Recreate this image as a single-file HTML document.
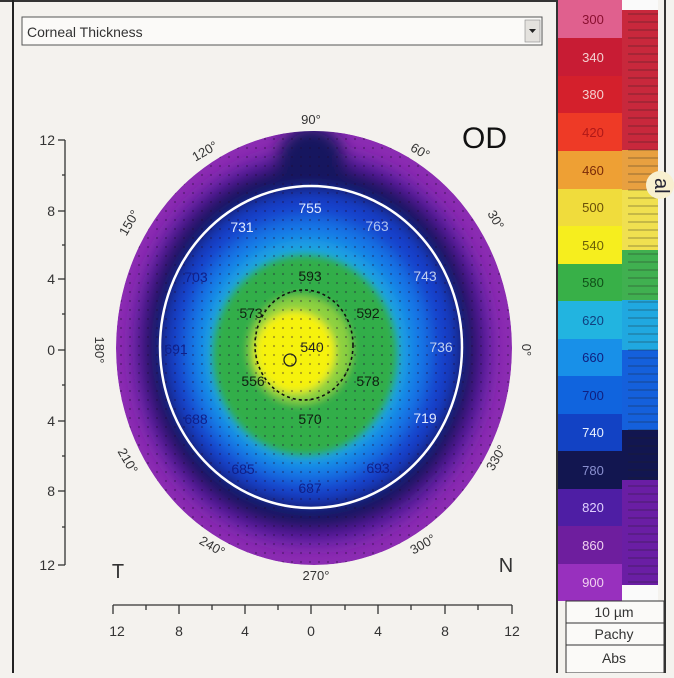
<!DOCTYPE html>
<html><head><style>
body{margin:0;width:674px;height:673px;overflow:hidden;background:#f4f2ee;font-family:"Liberation Sans",sans-serif}
</style></head><body>
<svg width="674" height="673" viewBox="0 0 674 673" xmlns="http://www.w3.org/2000/svg" font-family="Liberation Sans, sans-serif">
<defs>
<filter id="b" x="-30%" y="-30%" width="160%" height="160%"><feGaussianBlur stdDeviation="8"/></filter>
<filter id="b2" x="-30%" y="-30%" width="160%" height="160%"><feGaussianBlur stdDeviation="4"/></filter>
<clipPath id="c"><ellipse cx="314" cy="348" rx="198" ry="217"/></clipPath>
<pattern id="dots" width="9" height="9" patternUnits="userSpaceOnUse"><circle cx="4" cy="4" r="1.1" fill="#200830" opacity="0.7"/></pattern>
</defs>
<rect width="674" height="673" fill="#f4f2ee"/>
<rect x="0" y="0" width="556" height="2" fill="#333"/>
<rect x="12" y="0" width="2" height="673" fill="#222"/>
<rect x="22" y="17" width="520" height="28" fill="#fbfaf8" stroke="#555" stroke-width="1"/>
<text x="27" y="37" font-size="14" fill="#333">Corneal Thickness</text>
<rect x="525" y="20" width="15" height="22" fill="#e4e2de" stroke="#888" stroke-width="0.6"/>
<path d="M529 29 L536 29 L532.5 33 Z" fill="#222"/>
<g clip-path="url(#c)">
<ellipse cx="314" cy="348" rx="198" ry="217" fill="#8c2cb2"/>
<g filter="url(#b)">
<ellipse cx="312" cy="348" rx="180" ry="198" fill="#5a1ea0"/>
<ellipse cx="311" cy="347" rx="168" ry="184" fill="#16185e"/>
<ellipse cx="311" cy="168" rx="36" ry="42" fill="#16185e"/>
<ellipse cx="311" cy="347" rx="146" ry="156" fill="#1240cc"/>
<ellipse cx="308" cy="350" rx="122" ry="132" fill="#1878e8"/>
<ellipse cx="306" cy="352" rx="102" ry="112" fill="#1ea8e0"/>
</g>
<g filter="url(#b2)">
<ellipse cx="305" cy="355" rx="92" ry="100" fill="#32ae48"/>
<ellipse cx="300" cy="350" rx="52" ry="54" fill="#8cd040"/>
<ellipse cx="295" cy="352" rx="40" ry="41" fill="#f6f20a"/>
</g>
<rect x="100" y="120" width="430" height="460" fill="url(#dots)" opacity="0.5"/>
</g>
<ellipse cx="311" cy="347" rx="151" ry="161" fill="none" stroke="#fff" stroke-width="2.5"/>
<ellipse cx="304" cy="345" rx="49" ry="55" fill="none" stroke="#111" stroke-width="1.6" stroke-dasharray="3,3"/>
<circle cx="290" cy="360" r="6" fill="none" stroke="#222" stroke-width="1.3"/>
<g font-size="14" text-anchor="middle">
<text x="310" y="213" fill="#e0eaff">755</text>
<text x="242" y="232" fill="#e0eaff">731</text>
<text x="377" y="231" fill="#b0c4f0">763</text>
<text x="196" y="282" fill="#10208a">703</text>
<text x="425" y="281" fill="#c0d0f0">743</text>
<text x="310" y="281" fill="#102010">593</text>
<text x="251" y="318" fill="#102010">573</text>
<text x="368" y="318" fill="#102010">592</text>
<text x="176" y="354" fill="#10208a">691</text>
<text x="312" y="352" fill="#222">540</text>
<text x="441" y="352" fill="#c0d0f0">736</text>
<text x="253" y="386" fill="#102010">556</text>
<text x="368" y="386" fill="#102010">578</text>
<text x="196" y="424" fill="#10208a">688</text>
<text x="310" y="424" fill="#102010">570</text>
<text x="425" y="423" fill="#e0eaff">719</text>
<text x="243" y="474" fill="#10208a">685</text>
<text x="378" y="473" fill="#10208a">693</text>
<text x="310" y="493" fill="#10208a">687</text>
</g>
<g font-size="13" fill="#333" text-anchor="middle">
<text x="311" y="124">90°</text>
<text x="207" y="155" transform="rotate(-30 207 155)">120°</text>
<text x="418" y="155" transform="rotate(30 418 155)">60°</text>
<text x="133" y="225" transform="rotate(-60 133 225)">150°</text>
<text x="492" y="222" transform="rotate(60 492 222)">30°</text>
<text x="95" y="350" transform="rotate(90 95 350)">180°</text>
<text x="522" y="350" transform="rotate(90 522 350)">0°</text>
<text x="124" y="463" transform="rotate(60 124 463)">210°</text>
<text x="500" y="460" transform="rotate(-60 500 460)">330°</text>
<text x="210" y="550" transform="rotate(30 210 550)">240°</text>
<text x="425" y="548" transform="rotate(-30 425 548)">300°</text>
<text x="316" y="580">270°</text>
</g>
<text x="462" y="148" font-size="30" fill="#111">OD</text>
<text x="118" y="578" font-size="20" fill="#333" text-anchor="middle">T</text>
<text x="506" y="572" font-size="20" fill="#333" text-anchor="middle">N</text>
<g stroke="#333" stroke-width="1.3">
<line x1="65" y1="140" x2="65" y2="565"/>
<line x1="58" y1="140" x2="65" y2="140"/><line x1="58" y1="211" x2="65" y2="211"/><line x1="58" y1="279" x2="65" y2="279"/><line x1="58" y1="350" x2="65" y2="350"/><line x1="58" y1="421" x2="65" y2="421"/><line x1="58" y1="491" x2="65" y2="491"/><line x1="58" y1="565" x2="65" y2="565"/>
<line x1="62" y1="175" x2="65" y2="175"/><line x1="62" y1="245" x2="65" y2="245"/><line x1="62" y1="314" x2="65" y2="314"/><line x1="62" y1="385" x2="65" y2="385"/><line x1="62" y1="456" x2="65" y2="456"/><line x1="62" y1="527" x2="65" y2="527"/>
<line x1="113" y1="605" x2="512" y2="605"/>
<line x1="113" y1="605" x2="113" y2="614"/><line x1="179" y1="605" x2="179" y2="614"/><line x1="245" y1="605" x2="245" y2="614"/><line x1="311" y1="605" x2="311" y2="614"/><line x1="378" y1="605" x2="378" y2="614"/><line x1="445" y1="605" x2="445" y2="614"/><line x1="512" y1="605" x2="512" y2="614"/>
<line x1="146" y1="605" x2="146" y2="610"/><line x1="212" y1="605" x2="212" y2="610"/><line x1="278" y1="605" x2="278" y2="610"/><line x1="345" y1="605" x2="345" y2="610"/><line x1="411" y1="605" x2="411" y2="610"/><line x1="478" y1="605" x2="478" y2="610"/>
</g>
<g font-size="14" fill="#333" text-anchor="end">
<text x="55" y="145">12</text><text x="55" y="216">8</text><text x="55" y="284">4</text><text x="55" y="355">0</text><text x="55" y="426">4</text><text x="55" y="496">8</text><text x="55" y="570">12</text>
</g>
<g font-size="14" fill="#333" text-anchor="middle">
<text x="117" y="636">12</text><text x="179" y="636">8</text><text x="245" y="636">4</text><text x="311" y="636">0</text><text x="378" y="636">4</text><text x="445" y="636">8</text><text x="512" y="636">12</text>
</g>
<rect x="556" y="0" width="118" height="673" fill="#f4f2ee"/>
<rect x="556" y="0" width="2" height="673" fill="#333"/>
<g>
<rect x="558" y="0" width="70" height="38" fill="#e0608e"/>
<rect x="558" y="38" width="70" height="38" fill="#c81c34"/>
<rect x="558" y="76" width="70" height="37" fill="#d4202c"/>
<rect x="558" y="113" width="70" height="38" fill="#ee3a26"/>
<rect x="558" y="151" width="70" height="38" fill="#eea034"/>
<rect x="558" y="189" width="70" height="37" fill="#f0dc3c"/>
<rect x="558" y="226" width="70" height="38" fill="#f6ee1e"/>
<rect x="558" y="264" width="70" height="37" fill="#38b048"/>
<rect x="558" y="301" width="70" height="38" fill="#22b4e0"/>
<rect x="558" y="339" width="70" height="37" fill="#1890e8"/>
<rect x="558" y="376" width="70" height="38" fill="#1064de"/>
<rect x="558" y="414" width="70" height="37" fill="#1242c4"/>
<rect x="558" y="451" width="70" height="38" fill="#121650"/>
<rect x="558" y="489" width="70" height="37" fill="#4e1ea4"/>
<rect x="558" y="526" width="70" height="38" fill="#6e1e9e"/>
<rect x="558" y="564" width="70" height="37" fill="#9830be"/>
</g>
<g>
<rect x="622" y="10" width="36" height="140" fill="#c8283c"/>
<rect x="622" y="150" width="36" height="40" fill="#e8a040"/>
<rect x="622" y="190" width="36" height="60" fill="#f0e050"/>
<rect x="622" y="250" width="36" height="50" fill="#40b050"/>
<rect x="622" y="300" width="36" height="50" fill="#20a8e0"/>
<rect x="622" y="350" width="36" height="80" fill="#1460dc"/>
<rect x="622" y="430" width="36" height="50" fill="#121650"/>
<rect x="622" y="480" width="36" height="105" fill="#6a1ea4"/>
<rect x="622" y="0" width="36" height="10" fill="#fafafa"/>
<rect x="622" y="585" width="36" height="16" fill="#fafafa"/>
</g>
<g stroke="#222" stroke-width="0.8" opacity="0.55">
<path d="M628 14H658M628 22H658M628 30H658M628 38H658M628 46H658M628 54H658M628 62H658M628 70H658M628 78H658M628 86H658M628 94H658M628 102H658M628 110H658M628 118H658M628 126H658M628 134H658M628 142H658M628 150H658M628 158H658M628 166H658M628 174H658M628 182H658M628 190H658M628 198H658M628 206H658M628 214H658M628 222H658M628 230H658M628 238H658M628 246H658M628 254H658M628 262H658M628 270H658M628 278H658M628 286H658M628 294H658M628 302H658M628 310H658M628 318H658M628 326H658M628 334H658M628 342H658M628 350H658M628 358H658M628 366H658M628 374H658M628 382H658M628 390H658M628 398H658M628 406H658M628 414H658M628 422H658M628 430H658M628 438H658M628 446H658M628 454H658M628 462H658M628 470H658M628 478H658M628 486H658M628 494H658M628 502H658M628 510H658M628 518H658M628 526H658M628 534H658M628 542H658M628 550H658M628 558H658M628 566H658M628 574H658M628 582H658"/>
</g>
<rect x="658" y="0" width="16" height="673" fill="#f4f2ee"/>
<rect x="664" y="0" width="2" height="673" fill="#333"/>
<circle cx="660" cy="185" r="14" fill="#f8f0d0"/>
<text x="653" y="190" font-size="20" fill="#223" transform="rotate(90 660 185)">al</text>
<g font-size="13" text-anchor="middle">
<text x="593" y="24" fill="#8a1030">300</text>
<text x="593" y="62" fill="#f4d0d0">340</text>
<text x="593" y="99" fill="#f4d0d0">380</text>
<text x="593" y="137" fill="#b01818">420</text>
<text x="593" y="175" fill="#7a2a08">460</text>
<text x="593" y="212" fill="#6a5008">500</text>
<text x="593" y="250" fill="#6a6008">540</text>
<text x="593" y="287" fill="#105018">580</text>
<text x="593" y="325" fill="#104080">620</text>
<text x="593" y="362" fill="#102080">660</text>
<text x="593" y="400" fill="#102080">700</text>
<text x="593" y="437" fill="#e8f0ff">740</text>
<text x="593" y="475" fill="#8a90d0">780</text>
<text x="593" y="512" fill="#e0d0ff">820</text>
<text x="593" y="550" fill="#f0d0f0">860</text>
<text x="593" y="587" fill="#f0d0f0">900</text>
</g>
<g stroke="#333" stroke-width="1" fill="#fbfaf8">
<rect x="566" y="601" width="98" height="22"/>
<rect x="566" y="623" width="98" height="22"/>
<rect x="566" y="645" width="98" height="28"/>
</g>
<g font-size="14" fill="#333" text-anchor="middle">
<text x="614" y="617">10 µm</text>
<text x="614" y="639">Pachy</text>
<text x="614" y="663">Abs</text>
</g>
</svg>
</body></html>
